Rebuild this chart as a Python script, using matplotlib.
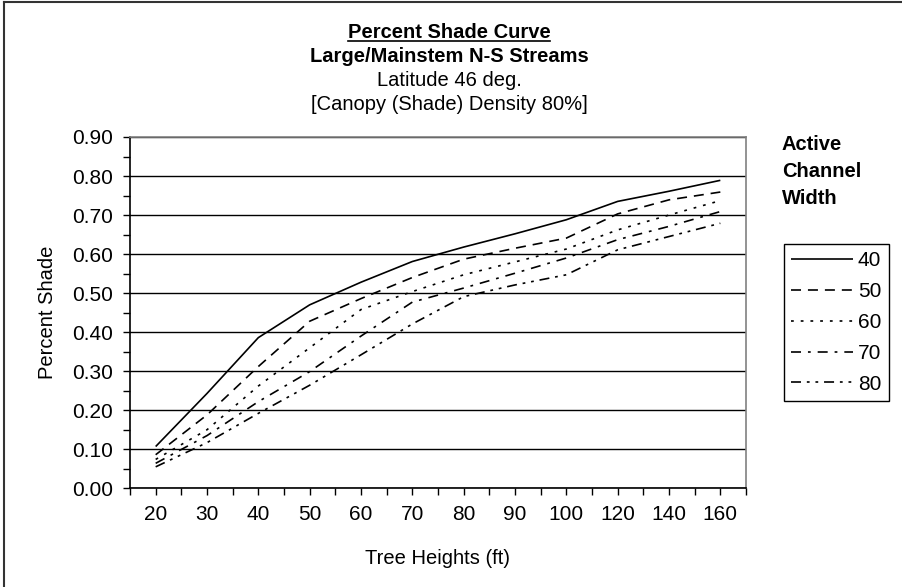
import matplotlib
matplotlib.use("Agg")
import matplotlib.pyplot as plt
import numpy as np
from matplotlib.lines import Line2D
from matplotlib.ticker import MultipleLocator, FixedLocator, FormatStrFormatter

plt.rcParams['font.family'] = ['Liberation Sans', 'DejaVu Sans']
plt.rcParams['lines.scale_dashes'] = False

# tree heights (categories) and shade per active channel width
heights = ['20', '30', '40', '50', '60', '70', '80', '90', '100', '120', '140', '160']
widths = ['40', '50', '60', '70', '80']
w40 = [0.107, 0.243, 0.386, 0.470, 0.528, 0.581, 0.618, 0.652, 0.688, 0.735, 0.761, 0.789]
w50 = [0.086, 0.188, 0.312, 0.428, 0.486, 0.540, 0.587, 0.615, 0.641, 0.703, 0.739, 0.759]
w60 = [0.074, 0.150, 0.262, 0.360, 0.458, 0.504, 0.547, 0.580, 0.613, 0.662, 0.700, 0.737]
w70 = [0.064, 0.135, 0.222, 0.299, 0.390, 0.477, 0.513, 0.551, 0.590, 0.637, 0.671, 0.709]
w80 = [0.055, 0.117, 0.192, 0.264, 0.342, 0.421, 0.491, 0.521, 0.547, 0.611, 0.645, 0.679]

# dash patterns (points): solid, dash, dot, dash-dot, dash-dot-dot
styles = [
    (0, ()),
    (0, (7.2, 5.0)),
    (0, (2.0, 5.0)),
    (0, (7.2, 5.0, 2.0, 5.0)),
    (0, (7.2, 4.2, 2.0, 4.2, 2.0, 4.2)),
]

W, H = 903, 587
fig = plt.figure(figsize=(W / 100, H / 100), dpi=100)

# plot area in pixels: left 130, right 746, top 137, bottom 488
ax = fig.add_axes([130 / W, 1 - 488.3 / H, 616 / W, 351.3 / H])

x = np.arange(len(heights))
series = [w40, w50, w60, w70, w80]
for vals, ls, lab in zip(series, styles, widths):
    ax.plot(x, vals, color='black', lw=1.2, linestyle=ls, label=lab,
            solid_capstyle='butt', dash_capstyle='butt')

ax.set_xlim(-0.5, len(heights) - 0.5)
ax.set_ylim(0, 0.9)
ax.set_xticks(x)
ax.set_xticklabels(heights)
ax.xaxis.set_minor_locator(FixedLocator(np.arange(len(heights) + 1) - 0.5))
ax.yaxis.set_major_locator(MultipleLocator(0.1))
ax.yaxis.set_minor_locator(MultipleLocator(0.05))
ax.yaxis.set_major_formatter(FormatStrFormatter('%.2f'))
ax.tick_params(which='both', direction='out', length=5, width=1, color='black')
ax.tick_params(which='major', labelsize=15, pad=7)

ax.grid(axis='y', which='major', color='black', lw=1)
ax.set_axisbelow(True)
for side in ['top', 'right']:
    ax.spines[side].set_color('#808080')
    ax.spines[side].set_linewidth(1.2)
for side in ['left', 'bottom']:
    ax.spines[side].set_color('black')
    ax.spines[side].set_linewidth(1.2)

fig.text(48 / W, 1 - 312.5 / H, 'Percent Shade', rotation=90,
         ha='center', va='center', fontsize=14.5)
fig.text(438 / W, 1 - 558 / H, 'Tree Heights (ft)', ha='center', va='center', fontsize=14.5)

# title block
cx = 449 / W
t1 = fig.text(cx, 1 - 32 / H, 'Percent Shade Curve', ha='center', va='center',
              fontsize=14.5, fontweight='bold')
fig.text(cx, 1 - 56.5 / H, 'Large/Mainstem N-S Streams', ha='center', va='center',
         fontsize=14.5, fontweight='bold')
fig.text(cx, 1 - 81 / H, 'Latitude 46 deg.', ha='center', va='center', fontsize=14.5)
fig.text(cx, 1 - 105 / H, '[Canopy (Shade) Density 80%]', ha='center', va='center', fontsize=14.5)

# underline the first title line
fig.canvas.draw()
bb = t1.get_window_extent()
uy = 1 - 41 / H
fig.add_artist(Line2D([bb.x0 / W, bb.x1 / W], [uy, uy], color='black', lw=1.2))

# legend header
for txt, yc in zip(['Active', 'Channel', 'Width'], [145, 171.5, 198]):
    fig.text(782 / W, 1 - yc / H, txt, ha='left', va='center',
             fontsize=14.5, fontweight='bold')

leg = ax.legend(loc='upper left', bbox_to_anchor=(784 / W, 1 - 244 / H),
                bbox_transform=fig.transFigure, borderaxespad=0,
                frameon=True, fancybox=False, edgecolor='black', framealpha=1,
                fontsize=15, handlelength=2.95, handletextpad=0.25,
                labelspacing=0.57, borderpad=0.35)
leg.get_frame().set_linewidth(1.0)

# outer chart border (left and top edges visible)
fig.add_artist(Line2D([4.5 / W, 4.5 / W], [0, 1 - 1.5 / H], color='#333333', lw=1.5))
fig.add_artist(Line2D([4.5 / W, 1], [1 - 1.5 / H, 1 - 1.5 / H], color='#333333', lw=1.5))

fig.savefig('out.png', dpi=100)
